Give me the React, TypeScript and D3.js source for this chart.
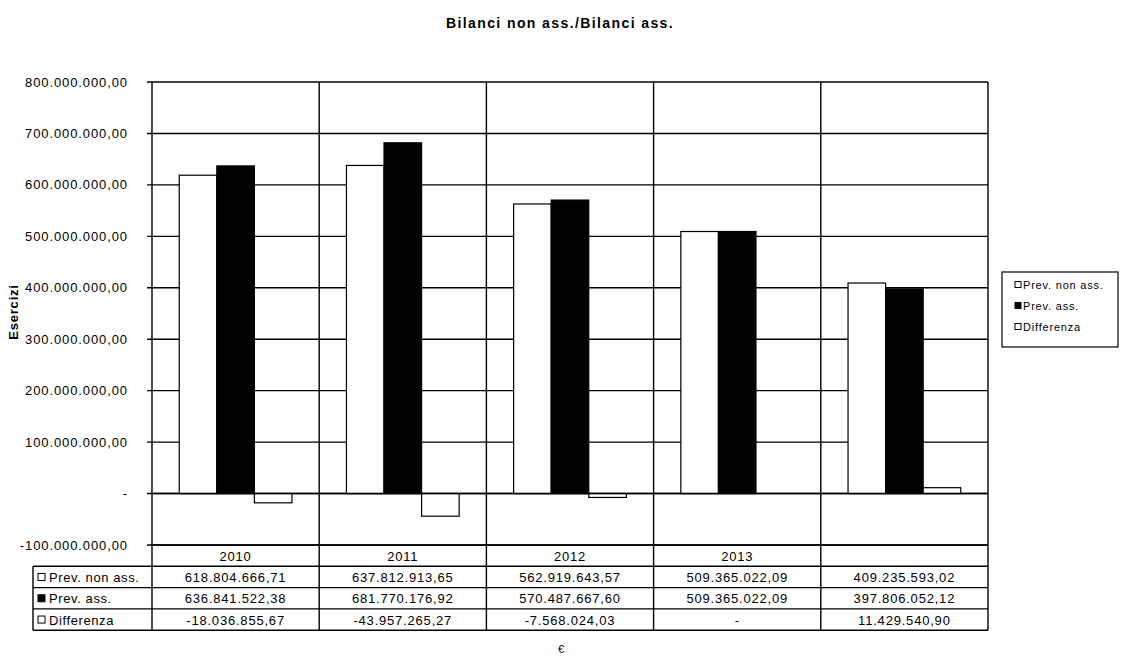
import React from "react";
import * as d3 from "d3";

const categories = ["2010", "2011", "2012", "2013", ""];
const seriesNames = ["Prev. non ass.", "Prev. ass.", "Differenza"];
const prevNonAss = [618804666.71, 637812913.65, 562919643.57, 509365022.09, 409235593.02];
const prevAss = [636841522.38, 681770176.92, 570487667.6, 509365022.09, 397806052.12];
const differenza = [-18036855.67, -43957265.27, -7568024.03, 0, 11429540.9];
const yTicks = [-100000000, 0, 100000000, 200000000, 300000000, 400000000, 500000000, 600000000, 700000000, 800000000];
const seriesFill = ["#ffffff", "#000000", "#ffffff"];

const title = "Bilanci non ass./Bilanci ass.";
const yTitle = "Esercizi";
const xTitle = "€";

const locale = d3.formatLocale({ decimal: ",", thousands: ".", grouping: [3], currency: ["", "€"], minus: "-" });
const fmt = locale.format(",.2f");
const fmtVal = (v: number) => (v === 0 ? "-" : fmt(v));

export default function App() {
  const W = 1121, H = 666;
  const left = 152, right = 988, top = 82, bottom = 545;
  const rowH = 21.3;
  const tableLeft = 33;
  const font = "'Liberation Sans', Arial, sans-serif";

  const allSeries = [prevNonAss, prevAss, differenza];

  const x0 = d3.scaleBand<string>().domain(categories.map((c, i) => String(i))).range([left, right]).padding(0);
  const step = x0.bandwidth();
  const gapRatio = 1.45;
  const barW = step / (3 + gapRatio);
  const gap = barW * gapRatio;
  const x1 = d3.scaleBand<string>().domain(seriesNames).range([gap / 2, step - gap / 2]).padding(0);
  const y = d3.scaleLinear().domain([-100000000, 800000000]).range([bottom, top]);

  const tableRowsTop = bottom + rowH;
  const tableBottom = tableRowsTop + rowH * 3;

  const stroke = "#000";
  const sw = 1.4;

  return (
    <svg width={W} height={H} style={{ position: "absolute", left: 0, top: 0, background: "#fff" }}>
      <rect x={0} y={0} width={W} height={H} fill="#fff" />
      <text x={560} y={28} textAnchor="middle" fontFamily={font} fontWeight="bold" fontSize={14} letterSpacing={1.4}>
        {title}
      </text>

      {yTicks.map((t) => (
        <g key={t}>
          <line x1={left - 5} x2={right} y1={y(t)} y2={y(t)} stroke={stroke} strokeWidth={sw} />
          <text x={128} y={y(t) + 4.5} textAnchor="end" fontFamily={font} fontSize={13} letterSpacing={0.9}>
            {t === 0 ? "-" : fmt(t)}
          </text>
        </g>
      ))}

      {categories.map((c, i) => (
        <line key={"v" + i} x1={x0(String(i))!} x2={x0(String(i))!} y1={top} y2={tableBottom} stroke={stroke} strokeWidth={sw} />
      ))}
      <line x1={right} x2={right} y1={top} y2={tableBottom} stroke={stroke} strokeWidth={sw} />

      {categories.map((c, i) =>
        seriesNames.map((s, j) => {
          const v = allSeries[j][i];
          if (v === 0) return null;
          const bx = x0(String(i))! + x1(s)!;
          const y0 = y(0), yv = y(v);
          return (
            <rect key={c + s + i} x={bx} y={Math.min(y0, yv)} width={barW} height={Math.abs(yv - y0)}
              fill={seriesFill[j]} stroke={stroke} strokeWidth={1.2} />
          );
        })
      )}
      <line x1={left} x2={right} y1={y(0)} y2={y(0)} stroke={stroke} strokeWidth={sw} />

      <line x1={left} x2={right} y1={bottom} y2={bottom} stroke={stroke} strokeWidth={sw} />
      {categories.map((c, i) => (
        <text key={"c" + i} x={x0(String(i))! + step / 2} y={bottom + rowH / 2 + 5} textAnchor="middle" fontFamily={font} fontSize={13} letterSpacing={0.8}>
          {c}
        </text>
      ))}
      {[0, 1, 2, 3].map((k) => (
        <line key={"h" + k} x1={tableLeft} x2={right} y1={tableRowsTop + k * rowH} y2={tableRowsTop + k * rowH} stroke={stroke} strokeWidth={sw} />
      ))}
      <line x1={tableLeft} x2={tableLeft} y1={tableRowsTop} y2={tableBottom} stroke={stroke} strokeWidth={sw} />
      {seriesNames.map((s, j) => {
        const ry = tableRowsTop + j * rowH;
        return (
          <g key={"r" + s}>
            <rect x={38} y={ry + rowH / 2 - 3.5} width={7} height={7} fill={seriesFill[j]} stroke={stroke} strokeWidth={1} />
            <text x={49} y={ry + rowH / 2 + 5} fontFamily={font} fontSize={13} letterSpacing={0.6}>
              {s}
            </text>
            {categories.map((c, i) => (
              <text key={"t" + i} x={x0(String(i))! + step / 2} y={ry + rowH / 2 + 5} textAnchor="middle" fontFamily={font} fontSize={13} letterSpacing={0.8}>
                {fmtVal(allSeries[j][i])}
              </text>
            ))}
          </g>
        );
      })}

      <text transform={`translate(18,${312}) rotate(-90)`} textAnchor="middle" fontFamily={font} fontWeight="bold" fontSize={13} letterSpacing={0.8}>
        {yTitle}
      </text>
      <text x={561} y={653} textAnchor="middle" fontFamily={font} fontSize={11}>
        {xTitle}
      </text>

      <rect x={1002} y={272} width={116} height={75} fill="#fff" stroke={stroke} strokeWidth={1.2} />
      {seriesNames.map((s, j) => (
        <g key={"l" + s}>
          <rect x={1015} y={285 + j * 21 - 3.5} width={6} height={6} fill={seriesFill[j]} stroke={stroke} strokeWidth={1} />
          <text x={1023} y={285 + j * 21 + 3.5} fontFamily={font} fontSize={11} letterSpacing={0.8}>
            {s}
          </text>
        </g>
      ))}
    </svg>
  );
}
